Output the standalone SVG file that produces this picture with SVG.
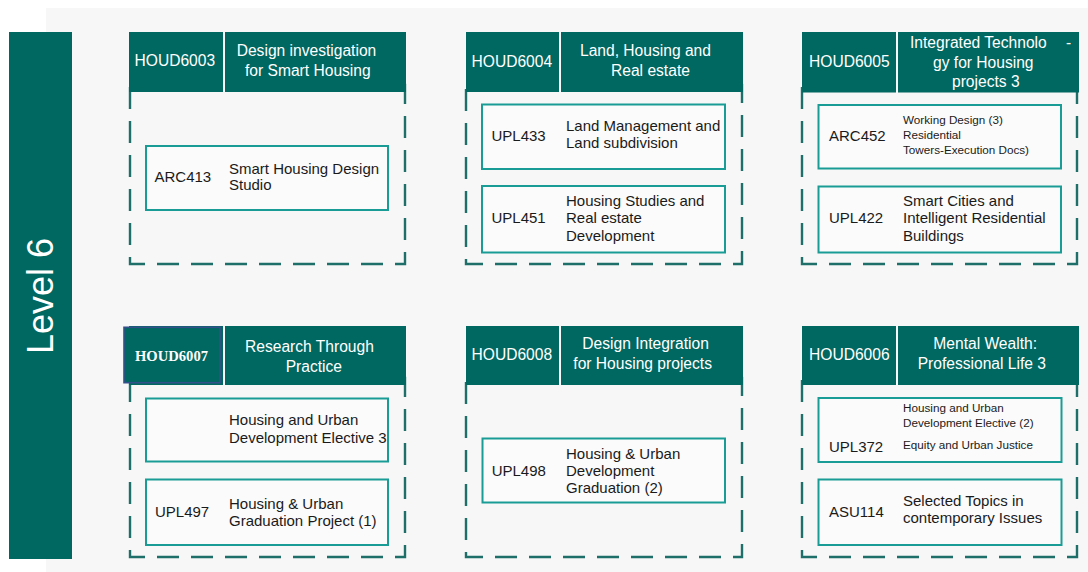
<svg xmlns="http://www.w3.org/2000/svg" width="1088" height="572" viewBox="0 0 1088 572">
<style>
.hd{fill:#006761}
.dash{fill:none;stroke:#1E6F69;stroke-width:2.4;stroke-dasharray:22 12}
.box{fill:#fbfbfb;stroke:#1A9C96;stroke-width:2}
.ht{font-family:"Liberation Sans",Arial,sans-serif;font-size:15.6px;fill:#ffffff}
.bt{font-family:"Liberation Sans",Arial,sans-serif;font-size:15px;fill:#1a1a1a}
.st{font-family:"Liberation Sans",Arial,sans-serif;font-size:11.7px;fill:#1a1a1a}
</style>
<defs>
<clipPath id="clipE"><rect x="146" y="398" width="241" height="64"/></clipPath>
</defs>
<rect x="0" y="0" width="1088" height="572" fill="#ffffff"/>
<rect x="46" y="8" width="1042" height="564" fill="#f7f7f7"/>

<g id="level6">
<rect x="9" y="32" width="63" height="527" fill="#006761"/>
<text transform="translate(53,296) rotate(-90)" text-anchor="middle" font-family="Liberation Sans, Arial, sans-serif" font-size="36" fill="#ffffff">Level 6</text>
</g>

<g id="connectors"></g>

<!-- Row 1 -->
<g id="HOUD6003">
<rect class="dash" x="130" y="85" width="275" height="179"/>
<rect class="hd" x="129" y="32" width="94" height="60"/>
<rect class="hd" x="225" y="32" width="181" height="60"/>
<text class="ht" x="134.5" y="66">HOUD6003</text>
<text class="ht" x="236.7" y="56">Design investigation</text>
<text class="ht" x="245" y="76">for Smart Housing</text>
</g>
<g id="ARC413">
<rect class="box" x="146" y="146" width="242" height="64"/>
<text class="bt" x="154.5" y="182">ARC413</text>
<text class="bt" x="229" y="174">Smart Housing Design</text>
<text class="bt" x="229" y="190">Studio</text>
</g>

<g id="HOUD6004">
<rect class="dash" x="466" y="85" width="276" height="179"/>
<rect class="hd" x="466" y="32" width="93" height="60"/>
<rect class="hd" x="561" y="32" width="182" height="60"/>
<text class="ht" x="471.5" y="66.5">HOUD6004</text>
<text class="ht" x="580" y="56">Land, Housing and</text>
<text class="ht" x="611" y="75.5">Real estate</text>
</g>
<g id="UPL433">
<rect class="box" x="482" y="104.5" width="243" height="64.5"/>
<text class="bt" x="491.5" y="140.7">UPL433</text>
<text class="bt" x="566" y="131">Land Management and</text>
<text class="bt" x="566" y="148.3">Land subdivision</text>
</g>
<g id="UPL451">
<rect class="box" x="482" y="186" width="243" height="66.5"/>
<text class="bt" x="491.5" y="223.3">UPL451</text>
<text class="bt" x="566" y="205.7">Housing Studies and</text>
<text class="bt" x="566" y="222.9">Real estate</text>
<text class="bt" x="566" y="240.7">Development</text>
</g>

<g id="HOUD6005">
<rect class="dash" x="802" y="85" width="275" height="179"/>
<rect class="hd" x="802" y="32" width="94" height="60.5"/>
<rect class="hd" x="898" y="32" width="181" height="60.5"/>
<text class="ht" x="809" y="66.5">HOUD6005</text>
<text class="ht" x="910" y="48">Integrated Technolo</text>
<text class="ht" x="1066" y="48">-</text>
<text class="ht" x="933" y="67.5">gy for Housing</text>
<text class="ht" x="952" y="87">projects 3</text>
</g>
<g id="ARC452">
<rect class="box" x="818.5" y="105" width="242.5" height="63.5"/>
<text class="bt" x="829" y="140.7">ARC452</text>
<text class="st" x="903" y="124.3">Working Design (3)</text>
<text class="st" x="903" y="139.3">Residential</text>
<text class="st" x="903" y="154.3">Towers-Execution Docs)</text>
</g>
<g id="UPL422">
<rect class="box" x="818.5" y="186.5" width="242.5" height="66"/>
<text class="bt" x="829" y="223.3">UPL422</text>
<text class="bt" x="903" y="206">Smart Cities and</text>
<text class="bt" x="903" y="223.3">Intelligent Residential</text>
<text class="bt" x="903" y="240.7">Buildings</text>
</g>

<!-- Row 2 -->
<g id="HOUD6007">
<rect class="dash" x="130" y="378" width="275" height="179"/>
<rect class="hd" x="129" y="326" width="94" height="59"/>
<rect class="hd" x="225" y="326" width="181" height="59"/>
<rect x="124" y="327.3" width="96" height="55.4" fill="#006761" stroke="#34508A" stroke-width="1.6"/>
<text x="135" y="360.7" font-family="Liberation Serif, 'Times New Roman', serif" font-weight="bold" font-size="14.6" fill="#ffffff">HOUD6007</text>
<text class="ht" x="245" y="351.7">Research Through</text>
<text class="ht" x="285.7" y="371.7">Practice</text>
</g>
<g id="HUD-Elective3">
<rect class="box" x="146" y="398.5" width="242" height="63"/>
<g clip-path="url(#clipE)">
<text class="bt" x="229" y="425">Housing and Urban</text>
<text class="bt" x="229" y="443.3">Development Elective 3</text>
</g>
</g>
<g id="UPL497">
<rect class="box" x="146" y="479.5" width="242" height="65.5"/>
<text class="bt" x="155" y="516.7">UPL497</text>
<text class="bt" x="229" y="509">Housing &amp; Urban</text>
<text class="bt" x="229" y="525.5">Graduation Project (1)</text>
</g>

<g id="HOUD6008">
<rect class="dash" x="466" y="378" width="276" height="179"/>
<rect class="hd" x="466" y="326" width="93" height="59"/>
<rect class="hd" x="561" y="326" width="182" height="59"/>
<text class="ht" x="471.5" y="360">HOUD6008</text>
<text class="ht" x="582.3" y="349.3">Design Integration</text>
<text class="ht" x="573.3" y="369">for Housing projects</text>
</g>
<g id="UPL498">
<rect class="box" x="482.5" y="438.5" width="242.5" height="64"/>
<text class="bt" x="491.7" y="475.7">UPL498</text>
<text class="bt" x="566" y="459">Housing &amp; Urban</text>
<text class="bt" x="566" y="476">Development</text>
<text class="bt" x="566" y="493.3">Graduation (2)</text>
</g>

<g id="HOUD6006">
<rect class="dash" x="802" y="378" width="275" height="179"/>
<rect class="hd" x="802" y="326" width="94" height="59"/>
<rect class="hd" x="898" y="326" width="181" height="59"/>
<text class="ht" x="809" y="360">HOUD6006</text>
<text class="ht" x="933.3" y="349">Mental Wealth:</text>
<text class="ht" x="917.7" y="369">Professional Life 3</text>
</g>
<g id="UPL372">
<rect class="box" x="818.5" y="398" width="243" height="64"/>
<text class="st" x="903" y="411.7">Housing and Urban</text>
<text class="st" x="903" y="426.7">Development Elective (2)</text>
<text class="st" x="903" y="449.3">Equity and Urban Justice</text>
<text class="bt" x="829" y="451.7">UPL372</text>
</g>
<g id="ASU114">
<rect class="box" x="818.5" y="479.5" width="243" height="65.5"/>
<text class="bt" x="829" y="516.7">ASU114</text>
<text class="bt" x="903" y="506">Selected Topics in</text>
<text class="bt" x="903" y="522.7">contemporary Issues</text>
</g>
</svg>
